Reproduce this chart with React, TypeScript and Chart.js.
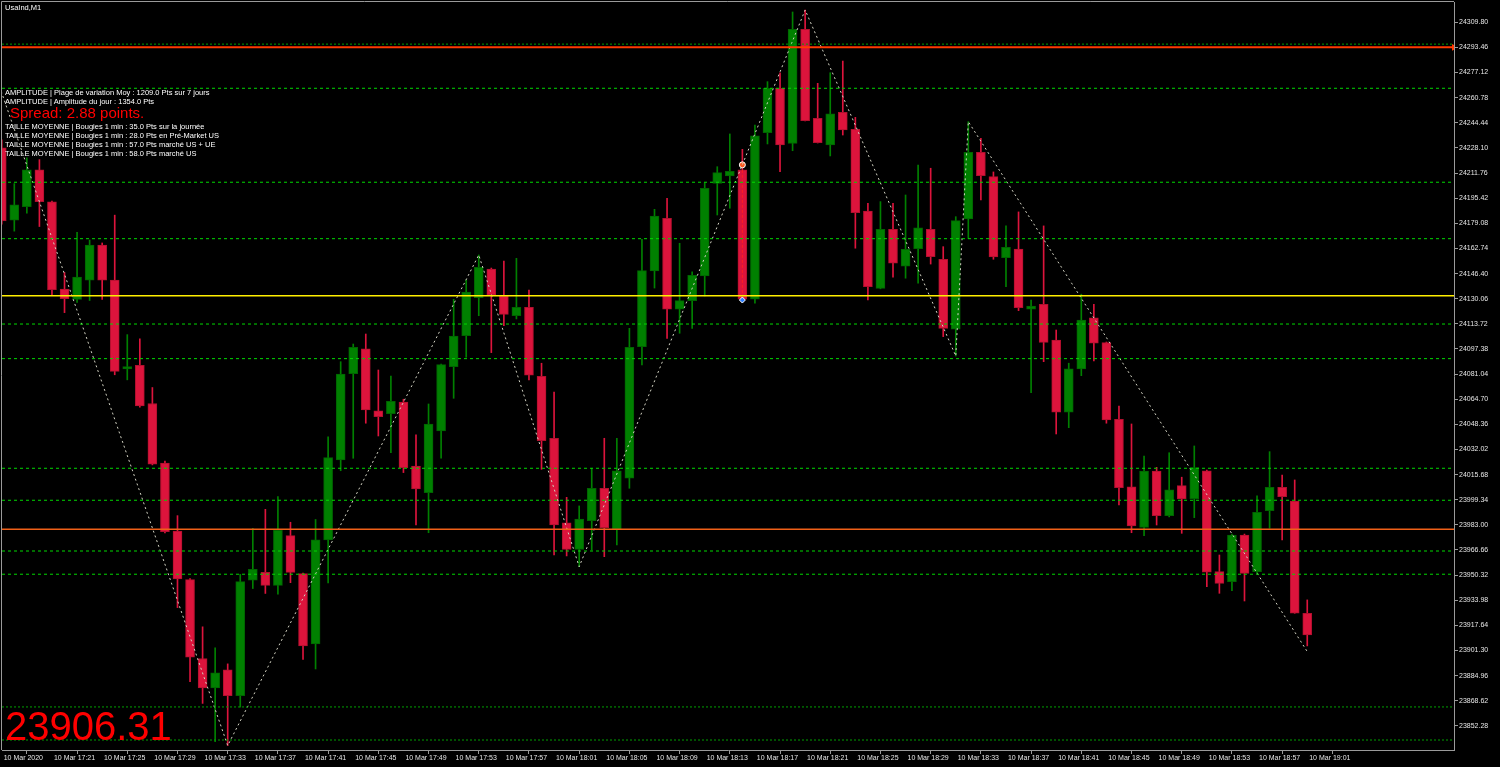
import React, { useEffect, useRef } from "react";
import { Chart, registerables } from "chart.js";

Chart.register(...registerables);

// ---- Data (1-minute candles, 10 Mar 2020 17:17 -> 19:01) ----
const opens = [
  24228.1, 24181.2, 24189.9, 24213.8, 24193.1, 24136.4, 24129.6, 24142.1, 24165.0, 24142.1,
  24084.4, 24086.8, 24061.9, 24023.1, 23979.0, 23947.4, 23896.1, 23876.9, 23888.8, 23871.9,
  23947.1, 23952.1, 23943.6, 23976.0, 23951.3, 23905.5, 23973.2, 24025.2, 24081.3, 24097.4,
  24057.1, 24055.3, 24062.9, 24021.3, 24004.0, 24044.1, 24085.9, 24106.0, 24130.7, 24149.4,
  24131.8, 24119.0, 24124.5, 24079.6, 24039.3, 23984.4, 23967.1, 23985.7, 24006.8, 23980.1,
  24013.3, 24098.9, 24148.1, 24182.4, 24123.2, 24128.8, 24144.8, 24205.1, 24209.9, 24213.8,
  24129.7, 24238.0, 24266.9, 24231.1, 24305.2, 24247.4, 24230.0, 24251.3, 24240.2, 24187.1,
  24136.8, 24175.2, 24151.3, 24162.6, 24175.2, 24155.7, 24110.2, 24181.9, 24225.3, 24209.4,
  24156.7, 24162.4, 24123.2, 24126.4, 24103.2, 24056.2, 24084.4, 24117.7, 24101.5, 24051.7,
  24007.8, 23981.4, 24018.0, 23989.0, 24008.5, 24000.0, 24018.2, 23952.6, 23946.1, 23976.4,
  23952.6, 23992.2, 24007.4, 23998.5, 23925.5,
];
const highs = [
  24233.3, 24204.9, 24221.6, 24220.5, 24193.5, 24147.1, 24173.3, 24168.2, 24166.3, 24184.4,
  24106.7, 24104.0, 24072.3, 24024.5, 23989.0, 23948.0, 23916.7, 23903.0, 23892.6, 23950.8,
  23980.7, 23993.1, 24001.4, 23984.7, 23951.7, 23986.5, 24040.3, 24089.1, 24100.6, 24107.1,
  24083.7, 24079.8, 24064.7, 24041.5, 24061.6, 24087.6, 24129.7, 24142.2, 24158.5, 24150.0,
  24154.6, 24156.3, 24135.7, 24088.1, 24069.4, 24000.9, 23995.3, 24019.8, 24039.3, 24039.3,
  24110.8, 24168.7, 24188.2, 24195.4, 24166.1, 24147.6, 24205.5, 24215.9, 24237.2, 24227.2,
  24243.0, 24271.2, 24277.0, 24316.5, 24317.8, 24270.1, 24277.0, 24284.6, 24248.0, 24192.1,
  24193.2, 24192.1, 24197.5, 24217.0, 24214.9, 24163.9, 24183.4, 24245.2, 24234.4, 24212.5,
  24177.4, 24186.5, 24129.2, 24177.4, 24109.7, 24088.1, 24133.0, 24126.4, 24101.9, 24060.3,
  24048.6, 24027.8, 24020.4, 24029.9, 24014.0, 24034.3, 24018.7, 23963.4, 23977.0, 23977.0,
  24001.8, 24030.6, 24015.4, 24012.2, 23934.2,
];
const lows = [
  24178.6, 24174.0, 24185.7, 24177.0, 24132.2, 24121.0, 24127.7, 24128.9, 24129.6, 24080.6,
  24077.3, 24059.6, 24022.0, 23977.7, 23929.2, 23881.1, 23866.9, 23842.0, 23839.5, 23864.5,
  23941.6, 23938.4, 23937.9, 23945.4, 23895.5, 23889.3, 23945.2, 24018.2, 24026.3, 24049.1,
  24040.8, 24030.0, 24017.0, 23983.0, 23977.9, 24026.3, 24065.3, 24092.0, 24119.0, 24095.0,
  24112.5, 24116.9, 24077.2, 24019.1, 23963.4, 23962.8, 23955.8, 23966.7, 23962.3, 23969.9,
  24006.8, 24087.0, 24137.0, 24104.3, 24107.6, 24110.8, 24131.8, 24184.5, 24188.9, 24129.2,
  24127.1, 24230.7, 24212.7, 24226.3, 24245.6, 24231.3, 24222.9, 24236.5, 24162.9, 24129.2,
  24136.5, 24144.0, 24143.4, 24140.1, 24152.6, 24105.4, 24092.8, 24169.3, 24194.3, 24155.7,
  24137.9, 24122.3, 24069.0, 24089.1, 24042.1, 24046.2, 24080.0, 24089.6, 24049.1, 23995.9,
  23977.9, 23976.0, 23982.9, 23988.2, 23977.5, 23987.7, 23942.8, 23938.5, 23940.2, 23933.5,
  23951.5, 23980.8, 23973.2, 23925.5, 23904.3,
];
const closes = [
  24180.6, 24191.1, 24213.8, 24193.1, 24135.9, 24130.1, 24144.1, 24165.0, 24142.1, 24082.8,
  24086.0, 24060.4, 24022.5, 23978.5, 23947.8, 23896.9, 23876.9, 23886.8, 23871.9, 23946.1,
  23954.1, 23943.6, 23979.5, 23952.1, 23904.3, 23973.3, 24026.7, 24081.1, 24098.5, 24057.7,
  24053.3, 24063.4, 24020.2, 24006.3, 24048.6, 24087.2, 24105.8, 24134.4, 24150.5, 24132.5,
  24119.9, 24124.5, 24080.3, 24037.7, 23982.9, 23967.1, 23986.8, 24006.8, 23981.2, 24018.2,
  24098.5, 24148.3, 24183.8, 24123.2, 24128.8, 24145.3, 24201.9, 24212.0, 24212.9, 24129.7,
  24235.9, 24266.9, 24230.0, 24305.2, 24245.8, 24231.5, 24250.2, 24239.8, 24186.0, 24137.9,
  24175.2, 24153.1, 24162.2, 24176.2, 24157.4, 24110.8, 24180.8, 24225.3, 24210.1, 24157.2,
  24163.5, 24124.2, 24125.3, 24101.7, 24056.2, 24084.4, 24116.2, 24101.1, 24051.2, 24007.2,
  23982.3, 24018.0, 23989.0, 24005.7, 23999.8, 24020.2, 23952.2, 23945.0, 23976.4, 23951.5,
  23991.2, 24007.4, 24001.4, 23925.5, 23911.4,
];

// ZigZag pivots (candle index, price)
const zigzagIdx = [-2, 18, 38, 46, 64, 76, 77, 104];
const zigzagPrice = [24311.0, 23839.5, 24158.5, 23955.8, 24317.8, 24092.8, 24245.2, 23900.6];

// Horizontal levels
const greenDashedLevels = [24266.9, 24205.8, 24169.1, 24113.6, 24091.1, 24019.8, 23999.0, 23966.0, 23950.9];
const greenDottedLevels = [24295.6, 23864.6, 23843.1];
const redLevel = 24293.5;
const yellowLevel = 24132.0;
const orangeLevel = 23980.1;

// Trade markers (candle 59)
const tradeIdx = 59;
const tradeOpenPrice = 24217.1;
const tradeClosePrice = 24129.2;

// Axis ticks
const yTicks = [
  24309.80, 24293.46, 24277.12, 24260.78, 24244.44, 24228.10, 24211.76, 24195.42, 24179.08, 24162.74,
  24146.40, 24130.06, 24113.72, 24097.38, 24081.04, 24064.70, 24048.36, 24032.02, 24015.68, 23999.34,
  23983.00, 23966.66, 23950.32, 23933.98, 23917.64, 23901.30, 23884.96, 23868.62, 23852.28,
];
const xTickIdx = [0, 4, 8, 12, 16, 20, 24, 28, 32, 36, 40, 44, 48, 52, 56, 60, 64, 68, 72, 76, 80, 84, 88, 92, 96, 100, 104];
const xTickLabels = [
  "10 Mar 2020", "10 Mar 17:21", "10 Mar 17:25", "10 Mar 17:29", "10 Mar 17:33", "10 Mar 17:37",
  "10 Mar 17:41", "10 Mar 17:45", "10 Mar 17:49", "10 Mar 17:53", "10 Mar 17:57", "10 Mar 18:01",
  "10 Mar 18:05", "10 Mar 18:09", "10 Mar 18:13", "10 Mar 18:17", "10 Mar 18:21", "10 Mar 18:25",
  "10 Mar 18:29", "10 Mar 18:33", "10 Mar 18:37", "10 Mar 18:41", "10 Mar 18:45", "10 Mar 18:49",
  "10 Mar 18:53", "10 Mar 18:57", "10 Mar 19:01",
];

const infoLines = [
  "AMPLITUDE | Plage de variation Moy : 1209.0 Pts sur 7 jours",
  "AMPLITUDE | Amplitude du jour : 1354.0 Pts",
];
const spreadText = "Spread: 2.88 points.";
const sizeLines = [
  "TAILLE MOYENNE | Bougies 1 min : 35.0 Pts sur la journée",
  "TAILLE MOYENNE | Bougies 1 min : 28.0 Pts en Pré-Market US",
  "TAILLE MOYENNE | Bougies 1 min : 57.0 Pts marché US + UE",
  "TAILLE MOYENNE | Bougies 1 min : 58.0 Pts marché US",
];
const symbolTitle = "UsaInd,M1";
const bidText = "23906.31";

const X_MIN = 0.02;
const X_MAX = 115.69;
const Y_MIN = 23836.6;
const Y_MAX = 24323.0;

const UP = "#008000";
const DOWN = "#DC143C";
const AXIS = "#9a9a9a";

const framePlugin = {
  id: "frame",
  afterDraw(chart: any) {
    const { ctx, chartArea } = chart;
    ctx.save();
    ctx.strokeStyle = AXIS;
    ctx.lineWidth = 1;
    ctx.beginPath();
    ctx.moveTo(chartArea.left - 0.5, chartArea.bottom);
    ctx.lineTo(chartArea.left - 0.5, chartArea.top - 0.5);
    ctx.lineTo(chartArea.right, chartArea.top - 0.5);
    ctx.stroke();
    ctx.restore();
  },
};

function levelLine(v: number, color: string, dash: number[], width: number, extra: any = {}) {
  return {
    type: "line" as const,
    data: [
      { x: X_MIN, y: v },
      { x: X_MAX, y: v },
    ],
    borderColor: color,
    borderWidth: width,
    borderDash: dash,
    pointRadius: 0,
    order: 0,
    clip: 0,
    ...extra,
  };
}

function noPad(scale: any) {
  scale.paddingTop = 0;
  scale.paddingBottom = 0;
  scale.paddingLeft = 0;
  scale.paddingRight = 0;
}

export default function App() {
  const ref = useRef<HTMLCanvasElement | null>(null);

  useEffect(() => {
    document.body.style.margin = "0";
    document.body.style.background = "#000";
    const canvas = ref.current;
    if (!canvas) return;

    const isUp = opens.map((o, i) => closes[i] >= o);
    const bodyData = opens.map((o, i) => ({ x: i, y: [o, closes[i]] }));
    const wickData = opens.map((_, i) => ({ x: i, y: [lows[i], highs[i]] }));

    const datasets: any[] = [
      {
        type: "bar",
        data: wickData,
        backgroundColor: isUp.map((u) => (u ? UP : DOWN)),
        borderWidth: 0,
        barThickness: 1,
        grouped: false,
        order: 3,
        clip: 0,
      },
      {
        type: "bar",
        data: bodyData,
        backgroundColor: isUp.map((u) => (u ? UP : DOWN)),
        borderColor: isUp.map((u) => (u ? "#006400" : "#B0102E")),
        borderWidth: 1,
        borderSkipped: false,
        barThickness: 9,
        minBarLength: 2,
        grouped: false,
        order: 2,
        clip: 0,
      },
      ...greenDashedLevels.map((v) => levelLine(v, "#00D800", [3, 3], 1)),
      ...greenDottedLevels.map((v) => levelLine(v, "#00A000", [2, 2], 1)),
      levelLine(yellowLevel, "#FFEE00", [], 1.5),
      levelLine(orangeLevel, "#F06018", [], 1.5),
      levelLine(redLevel, "#FF3A00", [], 2, {
        pointRadius: [0, 4],
        pointStyle: "triangle",
        rotation: 90,
        pointBackgroundColor: "#FF3A00",
        pointBorderWidth: 0,
      }),
      {
        type: "line",
        data: zigzagIdx.map((x, i) => ({ x, y: zigzagPrice[i] })),
        borderColor: "#D4D4C4",
        borderWidth: 1,
        borderDash: [2, 3],
        pointRadius: 0,
        order: 0,
        clip: 0,
      },
      {
        type: "line",
        data: [
          { x: tradeIdx, y: tradeOpenPrice },
          { x: tradeIdx, y: tradeClosePrice },
        ],
        borderColor: "#FF2020",
        borderWidth: 1,
        borderDash: [3, 2],
        pointRadius: 3,
        pointStyle: ["circle", "rectRot"],
        pointBackgroundColor: ["#FF5A20", "#2F7FFF"],
        pointBorderColor: "#FFFFFF",
        pointBorderWidth: 1,
        order: 0,
        clip: 0,
      },
    ];

    const chart = new Chart(canvas, {
      type: "bar",
      data: { datasets },
      options: {
        animation: false,
        responsive: false,
        devicePixelRatio: 1,
        layout: { autoPadding: false, padding: { left: 2, top: 2, right: 0, bottom: 0 } },
        plugins: { legend: { display: false }, tooltip: { enabled: false } },
        scales: {
          x: {
            type: "linear",
            min: X_MIN,
            max: X_MAX,
            offset: false,
            afterBuildTicks: (scale: any) => {
              scale.ticks = xTickIdx.map((v) => ({ value: v }));
            },
            afterFit: (scale: any) => {
              scale.height = 17;
              noPad(scale);
            },
            grid: { drawOnChartArea: false, drawTicks: true, tickLength: 4, color: AXIS },
            border: { display: true, color: AXIS, width: 1 },
            ticks: {
              autoSkip: false,
              maxRotation: 0,
              minRotation: 0,
              align: "start",
              padding: 0,
              color: "#E6E6E6",
              font: { family: "Liberation Sans, Arial, sans-serif", size: 7 },
              callback: (_v: any, i: number) => " " + xTickLabels[i],
            },
          },
          y: {
            type: "linear",
            position: "right",
            min: Y_MIN,
            max: Y_MAX,
            afterBuildTicks: (scale: any) => {
              scale.ticks = yTicks.map((v) => ({ value: v }));
            },
            afterFit: (scale: any) => {
              scale.width = 46;
              noPad(scale);
            },
            grid: { drawOnChartArea: false, drawTicks: true, tickLength: 4, color: AXIS },
            border: { display: true, color: AXIS, width: 1 },
            ticks: {
              padding: 1,
              color: "#E6E6E6",
              font: { family: "Liberation Sans, Arial, sans-serif", size: 7 },
              callback: (v: any) => Number(v).toFixed(2),
            },
          },
        },
      },
      plugins: [framePlugin],
    } as any);

    return () => chart.destroy();
  }, []);

  const small: React.CSSProperties = {
    position: "absolute",
    left: 5,
    color: "#FFFFFF",
    fontFamily: "Liberation Sans, Arial, sans-serif",
    fontSize: 7.5,
    lineHeight: "9px",
    whiteSpace: "nowrap",
    pointerEvents: "none",
  };

  return (
    <div style={{ position: "fixed", left: 0, top: 0, width: 1500, height: 767, background: "#000", overflow: "hidden" }}>
      <canvas ref={ref} width={1500} height={767} style={{ position: "absolute", left: 0, top: 0, width: 1500, height: 767 }} />
      <div style={{ ...small, top: 3 }}>{symbolTitle}</div>
      {infoLines.map((t, i) => (
        <div key={"a" + i} style={{ ...small, top: 88 + i * 9 }}>{t}</div>
      ))}
      <div
        style={{
          position: "absolute",
          left: 10,
          top: 105,
          color: "#FF0000",
          fontFamily: "Liberation Sans, Arial, sans-serif",
          fontSize: 15,
          lineHeight: "15px",
          whiteSpace: "nowrap",
          pointerEvents: "none",
        }}
      >
        {spreadText}
      </div>
      {sizeLines.map((t, i) => (
        <div key={"s" + i} style={{ ...small, top: 122 + i * 9.1 }}>{t}</div>
      ))}
      <div
        style={{
          position: "absolute",
          left: 5,
          top: 706,
          color: "#FF0000",
          fontFamily: "Liberation Sans, Arial, sans-serif",
          fontSize: 40,
          lineHeight: "40px",
          whiteSpace: "nowrap",
          pointerEvents: "none",
        }}
      >
        {bidText}
      </div>
    </div>
  );
}
